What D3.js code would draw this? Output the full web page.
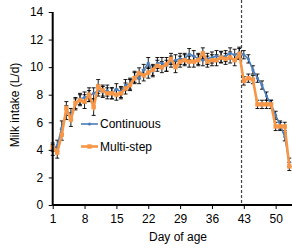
<!DOCTYPE html>
<html><head><meta charset="utf-8">
<script src="https://cdn.jsdelivr.net/npm/d3@7"></script>
<style>body{margin:0;background:#fff}svg{display:block}text{font-family:"Liberation Sans",Arial,sans-serif;fill:#000}</style>
</head><body><svg id="c" width="292" height="248"></svg>
<script>
const days = d3.range(1, 54);
const continuous = [4.0,4.3,5.6,6.7,6.6,7.3,7.7,7.8,7.9,8.1,8.3,8.2,8.3,8.1,8.4,8.2,8.7,8.8,9.3,9.2,9.8,10.3,9.7,10.3,10.3,10.1,10.4,10.5,10.6,10.6,10.95,10.8,10.6,10.5,10.6,10.7,10.8,10.75,10.8,11.0,10.9,11.05,10.9,10.6,9.8,9.2,8.7,7.9,7.3,6.5,5.8,4.95,3.1];
const multiStep = [4.2,3.8,5.1,7.0,6.2,7.4,7.6,7.5,8.0,7.1,8.6,8.3,8.1,8.1,8.0,8.1,8.45,8.7,9.2,9.55,9.4,9.6,9.8,10.1,10.0,10.2,10.6,10.0,10.4,10.5,10.4,10.4,10.5,11.0,10.4,10.5,10.5,10.7,10.6,10.7,10.5,10.95,9.0,9.2,9.1,7.3,7.3,7.3,7.3,5.7,5.7,5.7,2.8];
const errContinuous = [0.4,0.4,0.5,0.5,0.4,0.4,0.4,0.4,0.4,0.4,0.4,0.4,0.4,0.4,0.4,0.4,0.4,0.4,0.4,0.4,0.4,0.4,0.4,0.4,0.4,0.4,0.4,0.4,0.4,0.4,0.4,0.4,0.4,0.4,0.4,0.4,0.4,0.4,0.4,0.4,0.4,0.4,0.3,0.3,0.3,0.3,0.3,0.3,0.3,0.3,0.3,0.3,0.3];
const errMultiStep = [0.3,0.4,0.4,0.5,0.5,0.4,0.4,0.5,0.5,0.6,0.5,0.4,0.4,0.4,0.4,0.4,0.4,0.4,0.4,0.4,0.4,0.4,0.4,0.4,0.4,0.5,0.4,0.4,0.4,0.4,0.4,0.4,0.4,0.4,0.4,0.4,0.4,0.4,0.4,0.4,0.4,0.4,0.3,0.3,0.3,0.3,0.3,0.3,0.3,0.3,0.3,0.3,0.3];
const xTicks = [1,8,15,22,29,36,43,50];
const yTicks = [0,2,4,6,8,10,12,14];
const weaningDay = 42.5;
const seriesNames = ["Continuous","Multi-step"];
const colors = ["#4A7EBB","#F79646"];

const svg = d3.select("#c");
const x = d3.scaleLinear().domain([1,54]).range([52.7, 52.7+53*4.55]);
const y = d3.scaleLinear().domain([0,14]).range([205,12]);

svg.append("line").attr("x1",x(weaningDay)).attr("x2",x(weaningDay)).attr("y1",0).attr("y2",y(0))
  .attr("stroke","#444").attr("stroke-width",1.2).attr("stroke-dasharray","3,2");

const series = [
  {name:seriesNames[0], vals:continuous, err:errContinuous, color:colors[0], w:1.6, r:1.6},
  {name:seriesNames[1], vals:multiStep, err:errMultiStep, color:colors[1], w:2.6, r:2.2}
];

series.forEach(s=>{
  const g = svg.append("g").attr("stroke","#000").attr("stroke-width",0.9);
  days.forEach((d,i)=>{
    const cx = x(d), y1 = y(s.vals[i]+s.err[i]), y2 = y(s.vals[i]-s.err[i]);
    g.append("line").attr("x1",cx).attr("x2",cx).attr("y1",y1).attr("y2",y2);
    g.append("line").attr("x1",cx-2).attr("x2",cx+2).attr("y1",y1).attr("y2",y1);
    g.append("line").attr("x1",cx-2).attr("x2",cx+2).attr("y1",y2).attr("y2",y2);
  });
});

series.forEach((s,k)=>{
  const line = d3.line().x((d,i)=>x(days[i])).y(d=>y(d));
  svg.append("path").datum(s.vals).attr("d",line).attr("fill","none").attr("stroke",s.color).attr("stroke-width",s.w);
  if(k===0){
    svg.append("g").selectAll("circle").data(s.vals).join("circle")
      .attr("cx",(d,i)=>x(days[i])).attr("cy",d=>y(d)).attr("r",s.r).attr("fill",s.color);
  } else {
    svg.append("g").selectAll("rect").data(s.vals).join("rect")
      .attr("x",(d,i)=>x(days[i])-s.r).attr("y",d=>y(d)-s.r).attr("width",2*s.r).attr("height",2*s.r).attr("fill",s.color);
  }
});

const xa = svg.append("g").attr("transform",`translate(0,${y(0)})`)
  .call(d3.axisBottom(x).tickValues(xTicks).tickSize(4).tickFormat(d3.format("d")));
xa.select(".domain").attr("d",`M${x(1)},0H292`).attr("stroke-width",2);
xa.selectAll("text").attr("font-size",12).attr("dy","0.95em").attr("font-family","Liberation Sans, Arial, sans-serif");
const ya = svg.append("g").attr("transform",`translate(${x(1)},0)`)
  .call(d3.axisLeft(y).tickValues(yTicks).tickSize(4));
ya.select(".domain").attr("d",`M0,${y(14)}V${y(0)}`).attr("stroke-width",2);
ya.selectAll("text").attr("font-size",12).attr("dx","-0.2em").attr("font-family","Liberation Sans, Arial, sans-serif");

svg.append("text").attr("x",178).attr("y",241).attr("text-anchor","middle").attr("font-size",12).text("Day of age");
svg.append("text").attr("transform","translate(19,105) rotate(-90)").attr("text-anchor","middle").attr("font-size",12).text("Milk intake (L/d)");

series.forEach((s,k)=>{
  const ly = 124 + k*22.5;
  svg.append("line").attr("x1",81).attr("x2",98).attr("y1",ly).attr("y2",ly).attr("stroke",s.color).attr("stroke-width",s.w);
  if(k===0) svg.append("circle").attr("cx",89.5).attr("cy",ly).attr("r",s.r).attr("fill",s.color);
  else svg.append("rect").attr("x",89.5-s.r).attr("y",ly-s.r).attr("width",2*s.r).attr("height",2*s.r).attr("fill",s.color);
  svg.append("text").attr("x",100).attr("y",ly).attr("dy","0.35em").attr("font-size",12).text(s.name);
});
</script></body></html>
